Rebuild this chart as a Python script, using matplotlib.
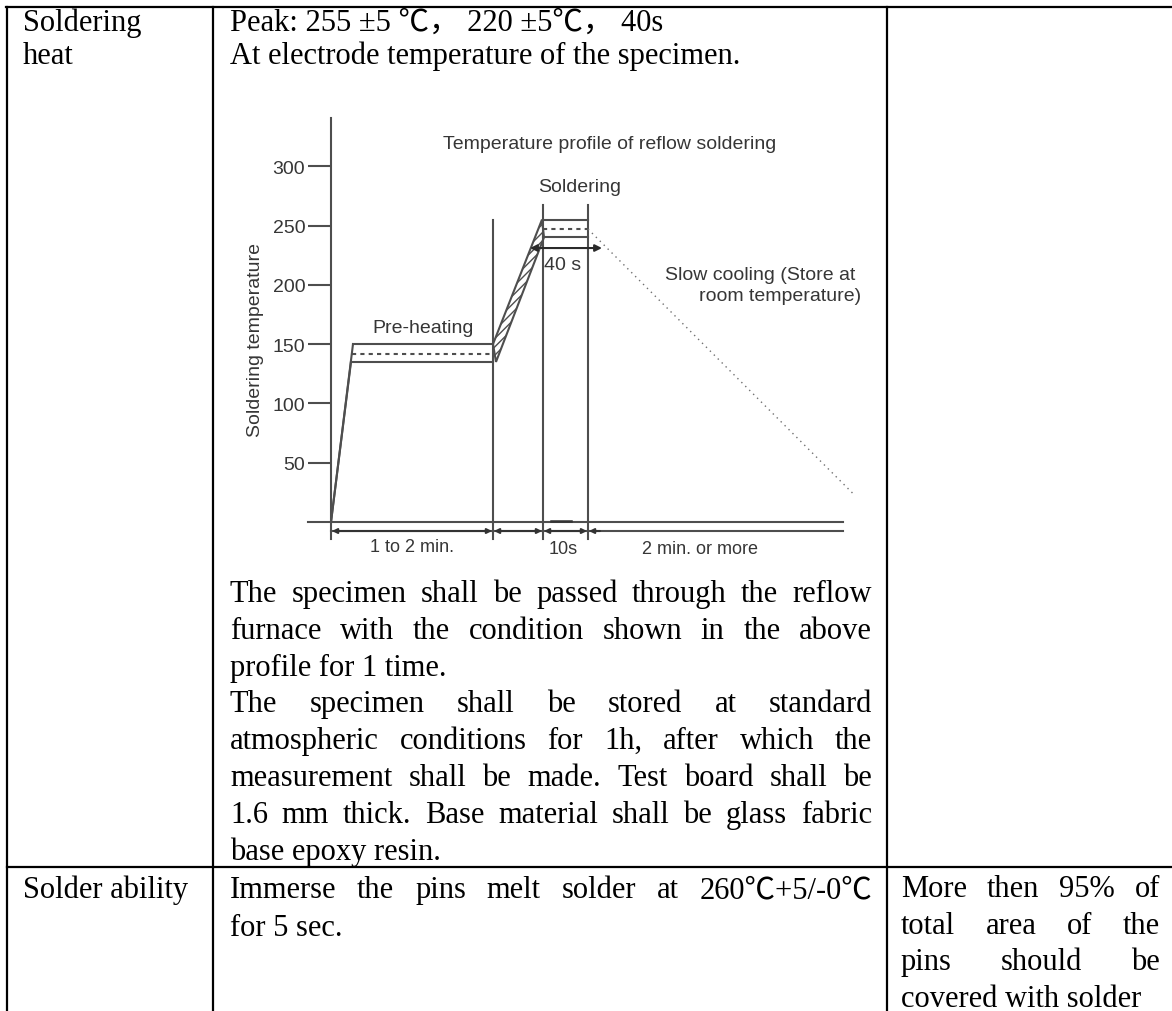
import matplotlib.pyplot as plt
from matplotlib.patches import Polygon

# ---- table texts ----
left_col = ["Soldering", "heat"]
left_col_2 = "Solder ability"
mid_head = ["Peak: 255 ±5 ℃， 220 ±5℃， 40s",
            "At electrode temperature of the specimen."]
mid_body = [("The specimen shall be passed through the reflow", True),
            ("furnace with the condition shown in the above", True),
            ("profile for 1 time.", False),
            ("The specimen shall be stored at standard", True),
            ("atmospheric conditions for 1h, after which the", True),
            ("measurement shall be made. Test board shall be", True),
            ("1.6 mm thick. Base material shall be glass fabric", True),
            ("base epoxy resin.", False)]
mid_row2 = [("Immerse the pins melt solder at 260℃+5/-0℃", True),
            ("for 5 sec.", False)]
right_row2 = [("More then 95% of", True),
              ("total area of the", True),
              ("pins should be", True),
              ("covered with solder", False)]

# ---- reflow profile (temperature in degC, time in drawing units) ----
temp_ticks = [50, 100, 150, 200, 250, 300]
preheat_temps = [150, 142, 135]     # upper, nominal (dashed), lower
solder_temps = [255, 247, 240]      # upper, nominal (dashed), lower
ramp1_top = [22, 21, 20]            # time where first ramp reaches plateau
t_pre_end = 162
t_sol_start = 212
t_sol_end = 257
t_cool_end = 522
t_base_end = 512
cool_end_temp = 24
pre_line_top = 255
sol_line_top = 267
arrow40_temp = 231

W, H = 1172, 1012
fig = plt.figure(figsize=(W / 100, H / 100), dpi=100)
page = fig.add_axes([0, 0, 1, 1])
page.set_xlim(0, W)
page.set_ylim(H, 0)
page.axis('off')

serif = ['Liberation Serif', 'Noto Sans CJK SC', 'DejaVu Sans']
fs = 22
lw_tab = 1.6

# table grid
page.plot([6, W], [8, 8], color='black', lw=lw_tab)
page.plot([7, 7], [8, H], color='black', lw=lw_tab)
page.plot([213, 213], [8, H], color='black', lw=lw_tab)
page.plot([887, 887], [8, H], color='black', lw=lw_tab)
page.plot([7, W], [868, 868], color='black', lw=lw_tab)

renderer = fig.canvas.get_renderer()


def put_line(text, x0, x1, y, justify):
    if not justify:
        page.text(x0, y, text, family=serif, fontsize=fs, va='baseline', ha='left')
        return
    words = text.split()
    objs = []
    widths = []
    for w in words:
        t = page.text(x0, y, w, family=serif, fontsize=fs, va='baseline', ha='left')
        objs.append(t)
        widths.append(t.get_window_extent(renderer).width)
    gap = (x1 - x0 - sum(widths)) / (len(words) - 1)
    x = x0
    for t, w in zip(objs, widths):
        t.set_x(x)
        x += w + gap


for i, s in enumerate(left_col):
    put_line(s, 23, 200, 31 + i * 33, False)
put_line(left_col_2, 23, 200, 898, False)
for i, s in enumerate(mid_head):
    put_line(s, 230, 872, 31 + i * 33, False)
for i, (s, j) in enumerate(mid_body):
    put_line(s, 230, 872, 602 + i * 36.8, j)
for i, (s, j) in enumerate(mid_row2):
    put_line(s, 230, 872, 898 + i * 38, j)
for i, (s, j) in enumerate(right_row2):
    put_line(s, 901, 1160, 897 + i * 36.7, j)

# ---- chart ----
gray = '#4e4e4e'
tcol = '#363636'
sans = 'Liberation Sans'
cfs = 14
lw = 1.5
plt.rcParams['hatch.linewidth'] = 1.0
plt.rcParams['hatch.color'] = gray

px0 = 331
k = 50 / 59.3
chart = fig.add_axes([240 / W, 1 - 560 / H, 640 / W, 460 / H])
chart.set_xlim(240 - px0, 880 - px0)
chart.set_ylim((523 - 560) * k, (523 - 100) * k)
chart.patch.set_alpha(0)
for s in ['top', 'right', 'bottom']:
    chart.spines[s].set_visible(False)
chart.spines['left'].set_position(('data', 0))
chart.spines['left'].set_bounds(-14, 341)
chart.spines['left'].set_color(gray)
chart.spines['left'].set_linewidth(lw)
chart.set_xticks([])
chart.set_yticks(temp_ticks)
chart.tick_params(axis='y', direction='out', length=16.5, width=lw, color=gray,
                  labelsize=cfs, labelcolor=tcol, pad=2)
for lab in chart.get_yticklabels():
    lab.set_family(sans)

# first ramp + preheat plateau
styles = ['-', (0, (2.0, 2.0)), '-']
for tt, temp, st in zip(ramp1_top, preheat_temps, styles):
    if st == '-':
        chart.plot([0, tt], [0, temp], color=gray, lw=lw)
    chart.plot([tt, t_pre_end], [temp, temp], color=gray, lw=lw, ls=st)

# hatched ramp to soldering zone
band = Polygon([(t_pre_end, preheat_temps[0]), (t_sol_start - 1, solder_temps[0]),
                (t_sol_start + 1, solder_temps[2]), (t_pre_end + 3, preheat_temps[2])],
               closed=True, fill=False, hatch='////', edgecolor=gray, lw=lw)
chart.add_patch(band)

# soldering plateau
for temp, st in zip(solder_temps, styles):
    chart.plot([t_sol_start, t_sol_end], [temp, temp], color=gray, lw=lw, ls=st)

# vertical markers
chart.plot([t_pre_end, t_pre_end], [-14, pre_line_top], color=gray, lw=lw)
chart.plot([t_sol_start, t_sol_start], [-14, sol_line_top], color=gray, lw=lw)
chart.plot([t_sol_end, t_sol_end], [-14, sol_line_top], color=gray, lw=lw)

# slow cooling
chart.plot([t_sol_end, t_cool_end], [solder_temps[1], cool_end_temp],
           color='#707070', lw=1.0, ls=(0, (1, 3)))

# base lines
chart.plot([-23, t_base_end], [0, 0], color=gray, lw=lw)
dim_y = -7.6
chart.plot([0, t_base_end], [dim_y, dim_y], color=gray, lw=lw)
chart.plot([220, 240], [0.6, 0.6], color='#333333', lw=1.8)

arrow = dict(arrowstyle='<|-|>', color='#333333', lw=lw, mutation_scale=7,
             shrinkA=0, shrinkB=0)
for a, b in [(0, t_pre_end), (t_pre_end, t_sol_start), (t_sol_start, t_sol_end)]:
    chart.annotate('', xy=(a + 1, dim_y), xytext=(b - 1, dim_y), arrowprops=arrow)
chart.annotate('', xy=(t_sol_end + 1, dim_y), xytext=(t_sol_end + 12, dim_y),
               arrowprops=dict(arrowstyle='-|>', color='#333333', lw=lw,
                               mutation_scale=7, shrinkA=0, shrinkB=0))
chart.annotate('', xy=(t_sol_start - 13, arrow40_temp), xytext=(t_sol_end + 14, arrow40_temp),
               arrowprops=dict(arrowstyle='<|-|>', color='#2a2a2a', lw=lw,
                               mutation_scale=10, shrinkA=0, shrinkB=0))

# labels
kw = dict(family=sans, fontsize=cfs, color=tcol)
chart.text(112, 318.8, 'Temperature profile of reflow soldering', ha='left', va='center', **kw)
chart.text(249, 283, 'Soldering', ha='center', va='center', **kw)
chart.text(92, 164, 'Pre-heating', ha='center', va='center', **kw)
chart.text(232, 216.7, '40 s', ha='center', va='center', **kw)
chart.text(334, 209, 'Slow cooling (Store at', ha='left', va='center', **kw)
chart.text(368, 190.6, 'room temperature)', ha='left', va='center', **kw)
kb = dict(family=sans, fontsize=13, color=tcol)
chart.text(81, -20.5, '1 to 2 min.', ha='center', va='center', **kb)
chart.text(232, -22.5, '10s', ha='center', va='center', **kb)
chart.text(369, -22, '2 min. or more', ha='center', va='center', **kb)
chart.text(-76, 154, 'Soldering temperature', rotation=90, ha='center', va='center', **kw)

fig.savefig('out.png', dpi=100)
